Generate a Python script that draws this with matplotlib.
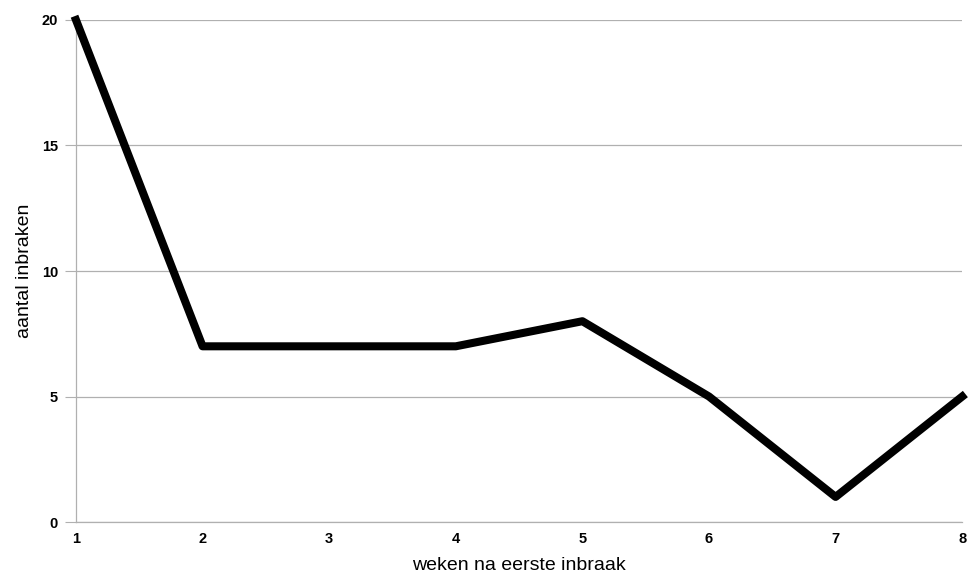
import matplotlib
matplotlib.use("Agg")
import matplotlib.pyplot as plt

plt.rcParams["font.family"] = ["Liberation Sans", "DejaVu Sans"]

# weken na eerste inbraak en aantal inbraken
weken = [1, 2, 3, 4, 5, 6, 7, 8]
inbraken = [20, 7, 7, 7, 8, 5, 1, 5]
y_ticks = [0, 5, 10, 15, 20]

fig = plt.figure(figsize=(9.69, 5.79), dpi=100)
ax = fig.add_axes([0.0784, 0.0984, 0.9146, 0.8671])

ax.plot(weken, inbraken, color="black", linewidth=5.8, clip_on=False, zorder=3)

ax.set_xlim(1, 8)
ax.set_ylim(0, 20)
ax.set_xticks(weken)
ax.set_yticks(y_ticks)
ax.grid(True, axis="y", color="#b0b0b0", linewidth=0.9)

for side in ["top", "right"]:
    ax.spines[side].set_visible(False)
for side in ["left", "bottom"]:
    ax.spines[side].set_color("#b0b0b0")
    ax.spines[side].set_linewidth(0.9)

ax.tick_params(axis="y", length=8, color="#b0b0b0", labelsize=10.5, pad=5)
ax.tick_params(axis="x", length=0, labelsize=10.5, pad=7)
for lbl in ax.get_xticklabels() + ax.get_yticklabels():
    lbl.set_fontweight("bold")

ax.set_xlabel("weken na eerste inbraak", fontsize=14, labelpad=8)
ax.set_ylabel("aantal inbraken", fontsize=14, labelpad=6)

fig.savefig("out.png", dpi=100)
